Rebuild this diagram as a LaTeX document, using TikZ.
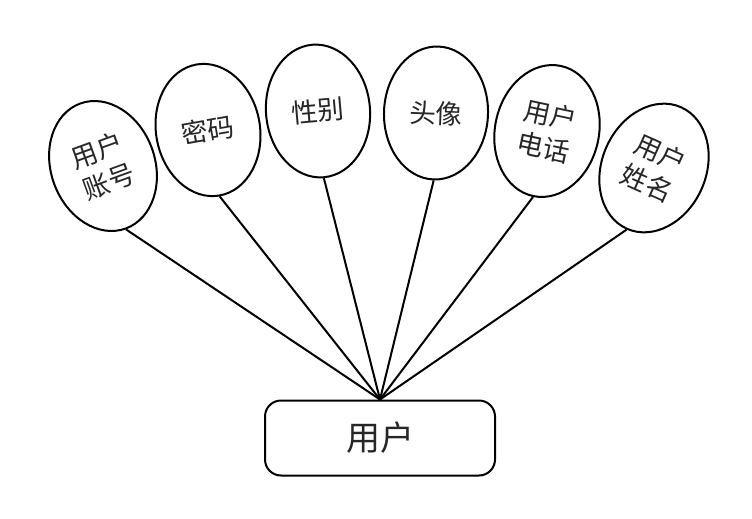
\documentclass[tikz,border=0pt]{standalone}
\usepackage{fontspec}
\newfontfamily\cjk{Noto Sans CJK SC}
\usetikzlibrary{shapes.geometric}
\begin{document}
\begin{tikzpicture}[x=1pt,y=-1pt,
  attr/.style={draw=black,line width=2pt,ellipse,minimum width=104pt,minimum height=133pt,inner sep=0pt,
     font=\cjk\fontsize{26.5}{33}\selectfont,align=center,text=black!85},
  ent/.style={draw=black,line width=2pt,rounded corners=16pt,minimum width=230pt,minimum height=75pt,
     font=\cjk\fontsize{34}{36}\selectfont,text=black!85},
  link/.style={line width=2pt}]
\useasboundingbox (0,0) rectangle (752,519);
\node[ent] (u) at (380,438) {用户};
\node[attr,rotate=20] (a1) at (103,166) {用户\\账号};
\node[attr,rotate=10] (a2) at (208,130) {密码};
\node[attr,rotate=5] (a3) at (318,111) {性别};
\node[attr,rotate=-2] (a4) at (436,113) {头像};
\node[attr,rotate=-12] (a5) at (547,131) {用户\\电话};
\node[attr,rotate=-24] (a6) at (654,168) {用户\\姓名};
\coordinate (top) at (u.north);
\foreach \n in {a1,a2,a3,a4,a5,a6}{\draw[link] (\n.south) -- (top);}
\end{tikzpicture}
\end{document}
